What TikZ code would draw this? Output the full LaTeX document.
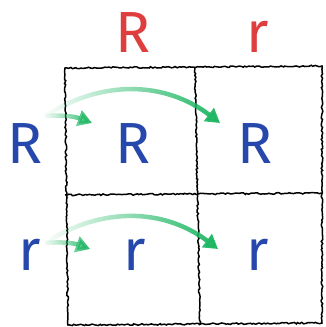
\documentclass[tikz,border=0pt]{standalone}
\usepackage{fontspec}
\setmainfont{Fira Sans}
\usetikzlibrary{arrows.meta,decorations.pathmorphing,fadings}

\definecolor{allelered}{RGB}{222,62,62}
\definecolor{alleleblue}{RGB}{38,72,172}
\definecolor{arrowgreen}{RGB}{28,182,98}

\begin{document}
\begin{tikzpicture}[x=1pt, y=-1pt]
    \tikzset{
        parent/.style={anchor=base, font=\fontsize{58}{58}\selectfont},
        mom/.style={parent, text=allelered},
        dad/.style={parent, text=alleleblue},
        sketch/.style={draw=black, line width=1.5pt, decorate, decoration={random steps, segment length=2pt, amplitude=0.8pt}},
        hop/.style={draw=arrowgreen, line width=4.5pt, path fading=west, -{Triangle[length=14pt, width=16pt]}}
    }
    \useasboundingbox (0,0) rectangle (325,327);

    % sketched punnett grid
    \draw[sketch] (65,68) -- (322,66) -- (322,323) -- (68,325) -- cycle;
    \draw[sketch] (195,68) -- (200,324);
    \draw[sketch] (65,195) -- (322,193);

    % alleles
    \node[mom] (colR) at (133,52) {R};
    \node[mom] (colr) at (258,52) {r};
    \node[dad] (rowR) at (25,163) {R};
    \node[dad] (rowr) at (30,270) {r};
    \node[dad] (cellRR) at (133,163) {R};
    \node[dad] (cellRr) at (255,163) {R};
    \node[dad] (cellrR) at (135,270) {r};
    \node[dad] (cellrr) at (258,270) {r};

    % green arrows
    \coordinate (tailR) at (45,116);
    \coordinate (tipRR) at (92,123);
    \coordinate (tipRr) at (220,123);
    \coordinate (tailr) at (45,243);
    \coordinate (tiprR) at (90,249);
    \coordinate (tiprr) at (218,249);
    \draw[hop] (tailR) to[bend left=12] (tipRR);
    \draw[hop] (tailR) to[bend left=35] (tipRr);
    \draw[hop] (tailr) to[bend left=12] (tiprR);
    \draw[hop] (tailr) to[bend left=35] (tiprr);
\end{tikzpicture}
\end{document}
